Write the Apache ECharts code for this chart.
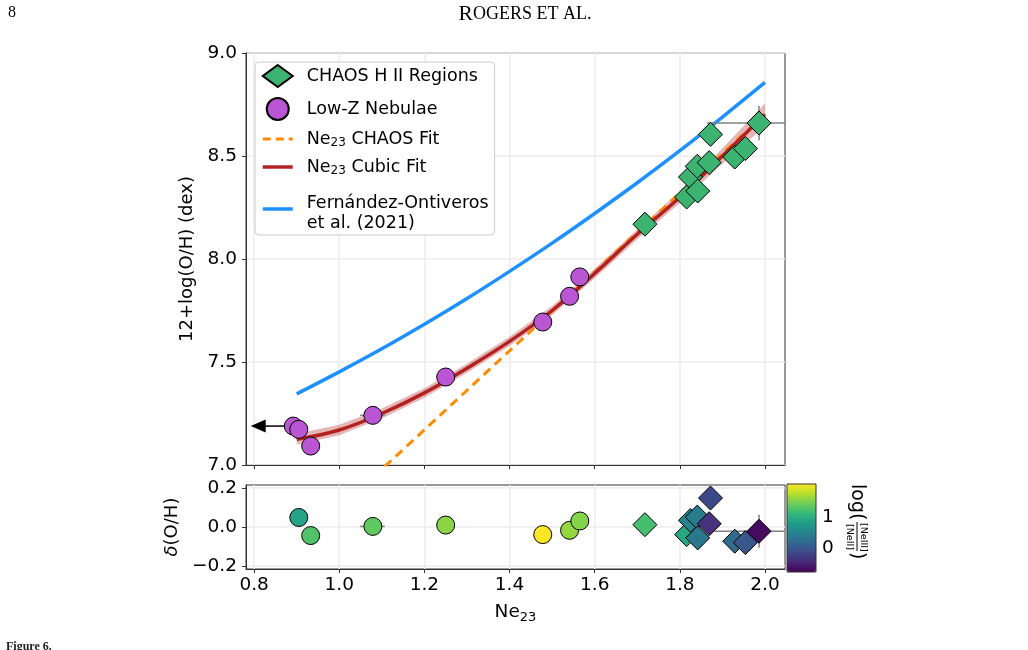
<!DOCTYPE html>
<html>
<head>
<meta charset="utf-8">
<title>Ne23 calibration</title>
<script src="https://cdn.jsdelivr.net/npm/echarts@6/dist/echarts.min.js"></script>
<style>
  html, body { margin: 0; padding: 0; background: #fff; }
  #chart { width: 1028px; height: 650px; }
</style>
</head>
<body>
<div id="chart"></div>
<script>
// values
const chaosX   = [1.718, 1.816, 1.825, 1.841, 1.842, 1.869, 1.872, 1.929, 1.954, 1.986];
const chaosY   = [8.169, 8.301, 8.398, 8.450, 8.330, 8.468, 8.605, 8.495, 8.536, 8.660];
const chaosRes = [0.012, -0.039, 0.034, 0.051, -0.056, 0.017, 0.149, -0.073, -0.080, -0.022];
const chaosNe  = [1.23, 0.95, 0.52, 0.43, 0.38, -0.34, -0.14, 0.23, 0.01, -0.68];

const lowzX   = [0.892, 0.905, 0.933, 1.079, 1.250, 1.478, 1.541, 1.565];
const lowzY   = [7.189, 7.173, 7.092, 7.241, 7.427, 7.694, 7.819, 7.913];
// residual panel has no entry for the upper limit (first point)
const lowzResX = [0.905, 0.933, 1.079, 1.250, 1.478, 1.541, 1.565];
const lowzRes  = [0.049, -0.044, 0.003, 0.010, -0.039, -0.017, 0.031];
const lowzNe   = [0.89, 1.29, 1.38, 1.58, 2.09, 1.63, 1.55];

// upper limit arrow: [x, y, arrow length]
const upperLim = [[0.892, 7.189, 0.100]];

// error bars: [x, y, xlo, xhi, ylo, yhi]
const errMain = [
  [1.986, 8.660, 1.864, 2.108, 8.576, 8.743],
  [1.079, 7.241, 1.049, 1.107, 7.241, 7.241],
  [1.478, 7.694, 1.461, 1.500, 7.694, 7.694]
];
const errRes = [
  [1.986, -0.022, 1.864, 2.108, -0.107, 0.063],
  [1.079, 0.003, 1.049, 1.107, 0.003, 0.003],
  [1.478, -0.039, 1.461, 1.500, -0.039, -0.039]
];

// fit curves
const fitX    = [0.9, 1.0, 1.1, 1.2, 1.3, 1.4, 1.5, 1.6, 1.7, 1.8, 1.9, 2.0];
const cubicY  = [7.125, 7.17, 7.25, 7.35, 7.47, 7.60, 7.75, 7.93, 8.12, 8.30, 8.50, 8.70];
const bandLo  = [7.098, 7.145, 7.226, 7.327, 7.448, 7.578, 7.728, 7.907, 8.096, 8.272, 8.462, 8.645];
const bandHi  = [7.152, 7.195, 7.274, 7.373, 7.492, 7.622, 7.772, 7.953, 8.144, 8.328, 8.538, 8.755];
const fernY   = [7.345, 7.452, 7.564, 7.683, 7.808, 7.940, 8.077, 8.221, 8.370, 8.526, 8.689, 8.857];
const chaosFitX = [0.9, 2.0];
const chaosFitY = [6.596, 8.704];

const xTicks   = [0.8, 1.0, 1.2, 1.4, 1.6, 1.8, 2.0];
const resTicks = [-0.2, 0.0, 0.2];
const cbTicks  = [0, 1];

const viridis = ['#440154', '#482878', '#3e4989', '#31688e', '#26828e',
                 '#1f9e89', '#35b779', '#6ece58', '#b5de2b', '#fde725'];

const FONT = 'DejaVu Sans';
const FS = 18.5;
const zip = (a, b) => a.map((v, i) => [v, b[i]]);
const fmtMinus = v => (v < 0 ? '\u2212' + Math.abs(v).toFixed(1) : v.toFixed(1));

function errRender(params, api) {
  const cs = params.coordSys;
  const y = api.value(1);
  const x = api.value(0);
  const a = api.coord([api.value(2), y]);
  const b = api.coord([api.value(3), y]);
  const kids = [{
    type: 'line',
    shape: { x1: Math.max(a[0], cs.x), y1: a[1], x2: Math.min(b[0], cs.x + cs.width), y2: b[1] },
    style: { stroke: '#808080', lineWidth: 1.5 }
  }];
  if (api.value(5) > api.value(4)) {
    const c = api.coord([x, api.value(4)]);
    const d = api.coord([x, api.value(5)]);
    kids.push({
      type: 'line',
      shape: { x1: c[0], y1: c[1], x2: d[0], y2: d[1] },
      style: { stroke: '#808080', lineWidth: 1.5 }
    });
  }
  return { type: 'group', children: kids };
}

function arrowRender(params, api) {
  const p = api.coord([api.value(0), api.value(1)]);
  const q = api.coord([api.value(0) - api.value(2), api.value(1)]);
  return {
    type: 'group',
    children: [
      { type: 'line', shape: { x1: p[0], y1: p[1], x2: q[0] + 12, y2: q[1] },
        style: { stroke: '#000', lineWidth: 1.5 } },
      { type: 'polygon', shape: { points: [[q[0], q[1]], [q[0] + 15, q[1] - 6.5], [q[0] + 15, q[1] + 6.5]] },
        style: { fill: '#000' } }
    ]
  };
}

function bandRender(params, api) {
  if (params.dataIndex !== 0) return;
  const pts = [];
  fitX.forEach((x, i) => pts.push(api.coord([x, bandHi[i]])));
  for (let i = fitX.length - 1; i >= 0; i--) pts.push(api.coord([fitX[i], bandLo[i]]));
  return { type: 'polygon', shape: { points: pts },
           style: { fill: 'rgba(178,34,34,0.33)' } };
}

const chart = echarts.init(document.getElementById('chart'));

const axisCommon = {
  axisLine: { show: true, onZero: false, lineStyle: { color: '#333', width: 1 } },
  axisTick: { show: true, length: 4, lineStyle: { color: '#333', width: 1 } },
  axisLabel: { color: '#000', fontSize: FS, fontFamily: FONT, margin: 9 },
  splitLine: { show: true, lineStyle: { color: '#ececec', width: 1.5 } }
};

const hideDot = { color: 'rgba(0,0,0,0)', borderColor: 'rgba(0,0,0,0)', borderWidth: 0, opacity: 0 };

const option = {
  backgroundColor: '#fff',
  animation: false,
  textStyle: { fontFamily: FONT },
  grid: [
    { left: 246, top: 53, width: 539, height: 412, show: true, borderColor: '#333', borderWidth: 1 },
    { left: 246, top: 485, width: 539, height: 84, show: true, borderColor: '#333', borderWidth: 1 },
    { left: 787, top: 484, width: 29, height: 88, show: true, borderColor: '#333', borderWidth: 1, z: 10 }
  ],
  xAxis: [
    Object.assign({}, axisCommon, {
      type: 'value', gridIndex: 0, min: 0.781, max: 2.047,
      axisTick: Object.assign({}, axisCommon.axisTick, { customValues: xTicks }),
      axisLabel: { show: false, customValues: xTicks }
    }),
    Object.assign({}, axisCommon, {
      type: 'value', gridIndex: 1, min: 0.781, max: 2.047,
      axisTick: Object.assign({}, axisCommon.axisTick, { customValues: xTicks }),
      axisLabel: Object.assign({}, axisCommon.axisLabel, { margin: 7, customValues: xTicks, formatter: v => v.toFixed(1) }),
      name: '{n|Ne}{s|23}', nameLocation: 'middle', nameGap: 31,
      nameTextStyle: { rich: {
        n: { fontSize: FS, fontFamily: FONT, color: '#000', lineHeight: 24 },
        s: { fontSize: 13, fontFamily: FONT, color: '#000', lineHeight: 24, verticalAlign: 'bottom', padding: [9, 0, 0, 0] }
      } }
    }),
    { type: 'value', gridIndex: 2, min: 0, max: 1, show: false }
  ],
  yAxis: [
    Object.assign({}, axisCommon, {
      type: 'value', gridIndex: 0, min: 7, max: 9, interval: 0.5,
      axisLabel: Object.assign({}, axisCommon.axisLabel, { formatter: v => v.toFixed(1) }),
      name: '12+log(O/H) (dex)', nameLocation: 'middle', nameGap: 47,
      nameTextStyle: { fontSize: 18, color: '#000', fontFamily: FONT }
    }),
    Object.assign({}, axisCommon, {
      type: 'value', gridIndex: 1, min: -0.216, max: 0.216,
      axisTick: Object.assign({}, axisCommon.axisTick, { customValues: resTicks }),
      axisLabel: Object.assign({}, axisCommon.axisLabel, { customValues: resTicks, formatter: fmtMinus }),
      name: '{i|\u03b4}{n|(O/H)}', nameLocation: 'middle', nameGap: 62,
      nameTextStyle: { rich: {
        i: { fontSize: 18, fontStyle: 'italic', fontFamily: FONT, color: '#000' },
        n: { fontSize: 18, fontFamily: FONT, color: '#000' }
      } }
    }),
    {
      type: 'value', gridIndex: 2, position: 'right', min: -0.765, max: 2.09,
      axisLine: { show: false },
      axisTick: { show: true, length: 4, customValues: cbTicks, lineStyle: { color: '#333' } },
      axisLabel: { color: '#000', fontSize: FS, fontFamily: FONT, margin: 6, customValues: cbTicks },
      splitLine: { show: false }
    }
  ],
  visualMap: {
    type: 'continuous', min: -0.765, max: 2.09, dimension: 2,
    seriesIndex: [9, 10], inRange: { color: viridis },
    left: 787, top: 484, itemWidth: 29, itemHeight: 88, padding: 0,
    calculable: false, hoverLink: false, text: null, show: true
  },
  legend: {
    data: [
      { name: 'CHAOS H II Regions' },
      { name: 'Low-Z Nebulae' },
      { name: 'Ne23 CHAOS Fit', itemStyle: hideDot, lineStyle: { width: 3, type: [8, 5] } },
      { name: 'Ne23 Cubic Fit', itemStyle: hideDot, lineStyle: { width: 3.5 } },
      { name: 'Fernández-Ontiveros et al. (2021)', itemStyle: hideDot, lineStyle: { width: 3.5 } }
    ],
    orient: 'vertical', left: 255, top: 62,
    padding: [2, 6, 3, 6], itemGap: 9, itemWidth: 30, itemHeight: 22,
    backgroundColor: 'rgba(255,255,255,0.9)', borderColor: '#cccccc', borderWidth: 1, borderRadius: 4,
    formatter: name => {
      if (name.startsWith('Ne23')) return '{t|Ne}{s|23}{t|' + name.slice(4) + '}';
      if (name.startsWith('Fern')) return '{f|Fernández-Ontiveros}\n{g|et al. (2021)}';
      return '{t|' + name + '}';
    },
    textStyle: {
      fontSize: 17.5, color: '#000', fontFamily: FONT, padding: [0, 0, 0, 9],
      rich: {
        t: { fontSize: 17.5, fontFamily: FONT, color: '#000', lineHeight: 20 },
        f: { fontSize: 17.5, fontFamily: FONT, color: '#000', lineHeight: 20, padding: [8, 0, 0, 0] },
        g: { fontSize: 17.5, fontFamily: FONT, color: '#000', lineHeight: 20, padding: [8, 0, 0, 0] },
        s: { fontSize: 12, fontFamily: FONT, color: '#000', lineHeight: 20, verticalAlign: 'bottom', padding: [7, 0, 0, 0] }
      }
    }
  },
  series: [
    { type: 'custom', name: 'band', xAxisIndex: 0, yAxisIndex: 0, renderItem: bandRender,
      data: [[fitX[0], bandLo[0]]], silent: true, z: 2 },
    { type: 'line', name: 'Ne23 CHAOS Fit', xAxisIndex: 0, yAxisIndex: 0, data: zip(chaosFitX, chaosFitY),
      symbol: 'none', clip: true, lineStyle: { color: '#ff8c00', width: 3, type: [9, 6] },
      itemStyle: { color: '#ff8c00' }, z: 2 },
    { type: 'line', name: 'Ne23 Cubic Fit', xAxisIndex: 0, yAxisIndex: 0, data: zip(fitX, cubicY),
      symbol: 'none', smooth: 0.4, lineStyle: { color: '#b22222', width: 3.5 },
      itemStyle: { color: '#b22222' }, z: 3 },
    { type: 'line', name: 'Fernández-Ontiveros et al. (2021)', xAxisIndex: 0, yAxisIndex: 0,
      data: zip(fitX, fernY), symbol: 'none', smooth: 0.4,
      lineStyle: { color: '#1e90ff', width: 3.5 }, itemStyle: { color: '#1e90ff' }, z: 3 },
    { type: 'custom', name: 'err', xAxisIndex: 0, yAxisIndex: 0, renderItem: errRender,
      data: errMain, silent: true, z: 4 },
    { type: 'custom', name: 'ul', xAxisIndex: 0, yAxisIndex: 0, renderItem: arrowRender,
      data: upperLim, silent: true, z: 4 },
    { type: 'scatter', name: 'CHAOS H II Regions', xAxisIndex: 0, yAxisIndex: 0,
      data: zip(chaosX, chaosY), symbol: 'diamond', symbolSize: 24,
      itemStyle: { color: '#3cb371', borderColor: '#000', borderWidth: 1, opacity: 1 }, z: 5 },
    { type: 'scatter', name: 'Low-Z Nebulae', xAxisIndex: 0, yAxisIndex: 0,
      data: zip(lowzX, lowzY), symbol: 'circle', symbolSize: 18,
      itemStyle: { color: '#ba55d3', borderColor: '#000', borderWidth: 1, opacity: 1 }, z: 5 },
    { type: 'custom', name: 'errRes', xAxisIndex: 1, yAxisIndex: 1, renderItem: errRender,
      data: errRes, silent: true, z: 4 },
    { type: 'scatter', name: 'resLowZ', xAxisIndex: 1, yAxisIndex: 1,
      data: lowzResX.map((x, i) => [x, lowzRes[i], lowzNe[i]]), symbol: 'circle', symbolSize: 18,
      itemStyle: { borderColor: '#000', borderWidth: 1, opacity: 1 }, z: 5 },
    { type: 'scatter', name: 'resCHAOS', xAxisIndex: 1, yAxisIndex: 1,
      data: chaosX.map((x, i) => [x, chaosRes[i], chaosNe[i]]), symbol: 'diamond', symbolSize: 24,
      itemStyle: { borderColor: '#000', borderWidth: 1, opacity: 1 }, z: 5 }
  ],
  graphic: [
    { type: 'text', left: 8, top: 5, style: { text: '8', font: '16px "Liberation Serif"', fill: '#000' } },
    { type: 'text', x: 525, y: 3, style: {
        text: '{b|R}{s|OGERS ET AL.}', align: 'center',
        rich: {
          b: { font: '21.5px "Liberation Serif"', fill: '#000' },
          s: { font: '18px "Liberation Serif"', fill: '#000' }
        } } },
    { type: 'text', left: 6, top: 641, style: { text: 'Figure 6.', font: 'bold 12px "Liberation Serif"', fill: '#222' } },
    // colorbar label: log([NeIII]/[NeII]) read top to bottom
    { type: 'group', x: 857, y: 484, rotation: -Math.PI / 2, children: [
        { type: 'text', x: 0, y: 0, style: { text: 'log(', font: '19px "DejaVu Sans"', fill: '#000',
          verticalAlign: 'middle', align: 'left' } },
        { type: 'text', x: 39, y: -6, style: { text: '[NeIII]', font: '9.5px "DejaVu Sans"', fill: '#000',
          verticalAlign: 'middle', align: 'left' } },
        { type: 'line', shape: { x1: 38, y1: 0, x2: 67, y2: 0 }, style: { stroke: '#000', lineWidth: 1 } },
        { type: 'text', x: 40, y: 8, style: { text: '[NeII]', font: '9.5px "DejaVu Sans"', fill: '#000',
          verticalAlign: 'middle', align: 'left' } },
        { type: 'text', x: 68, y: 0, style: { text: ')', font: '19px "DejaVu Sans"', fill: '#000',
          verticalAlign: 'middle', align: 'left' } }
      ] }
  ]
};

chart.setOption(option);
</script>
</body>
</html>
